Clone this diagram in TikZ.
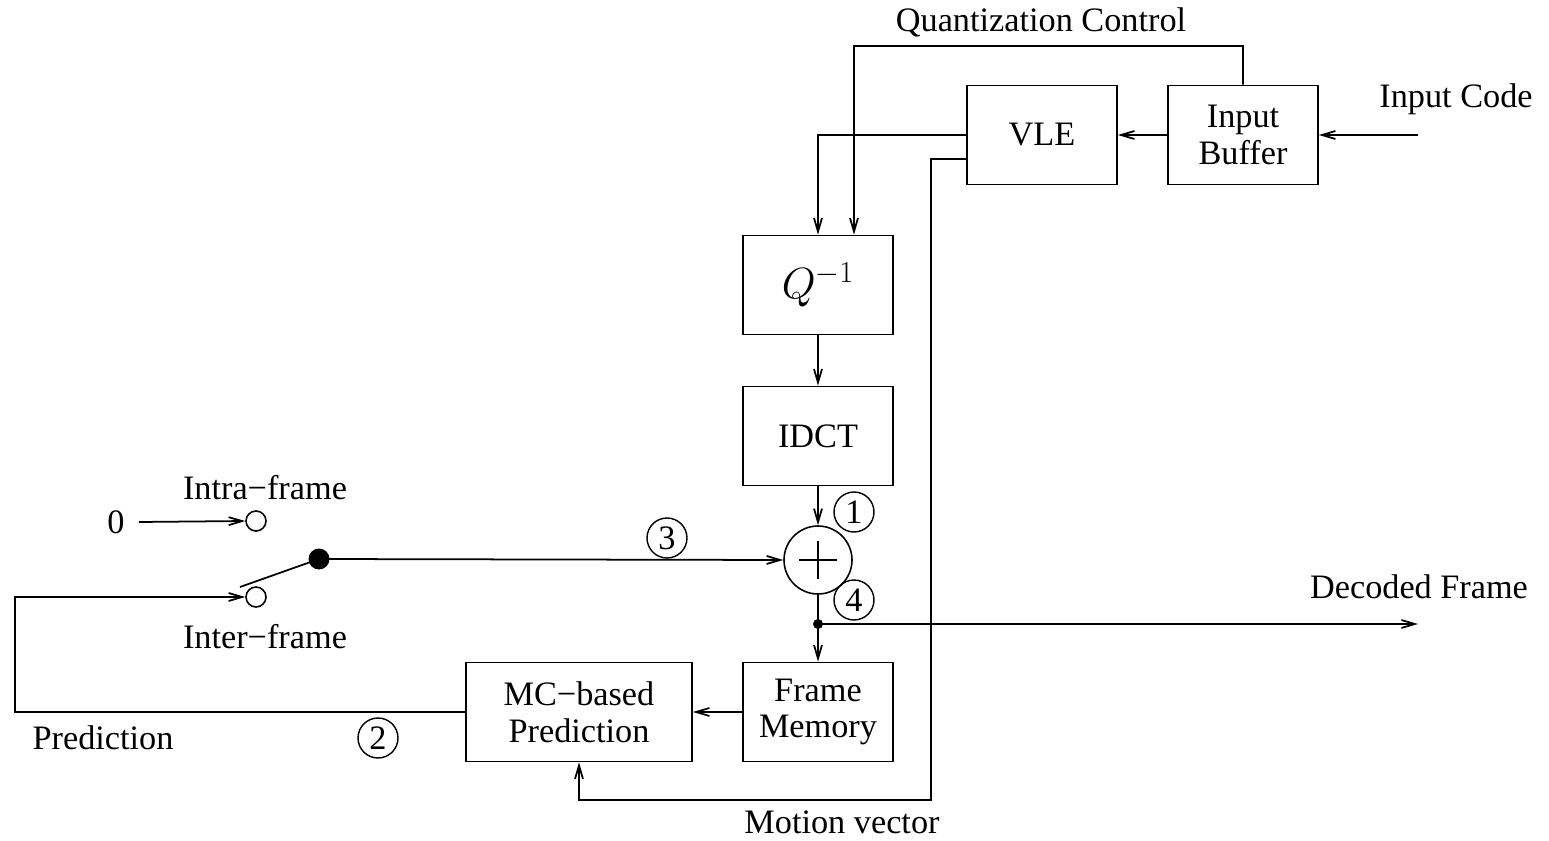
\documentclass[tikz,border=0pt]{standalone}
\usepackage{fontspec}
\setmainfont{Liberation Serif}
\usetikzlibrary{arrows.meta,positioning}

\begin{document}
\begin{tikzpicture}[
  x=0.02cm, y=-0.02cm,
  every node/.style={font=\rmfamily\fontsize{19.5pt}{22pt}\selectfont},
  blk/.style={draw, line width=1pt, minimum width=3cm, minimum height=1.98cm,
              align=center, inner sep=0pt},
  port/.style={draw, circle, line width=0.9pt, minimum size=0.4cm, inner sep=0pt},
  num/.style={draw, circle, line width=0.8pt, minimum size=0.8cm, inner sep=0pt},
  dot/.style={fill, circle, inner sep=0pt, minimum size=#1},
  ln/.style={line width=1pt},
  arr/.style={ln, -{Straight Barb[length=0.27cm, width=0.16cm]}}
]
\useasboundingbox (0,0) rectangle (1549,841);
% blocks
\node[blk] (vle)  at (1042,135) {VLE};
\node[blk] (buf)  at (1243,135) {Input\\[-1pt]Buffer};
\node[blk, font=\fontsize{25pt}{28pt}\selectfont] (q) at (818,285) {$Q^{-1}$};
\node[blk] (idct) at (818,436)  {IDCT};
\node[blk] (fm)   at (818,712)  {Frame\\[-1pt]Memory};
\node[blk, minimum width=4.52cm] (mc) at (579,712) {MC−based\\[-1pt]Prediction};
\node[draw, circle, line width=0.9pt, minimum size=1.36cm, inner sep=0pt] (add) at (818,560) {};
\draw[line width=1.2pt] (add.center) +(-19,0) -- +(19,0) +(0,-19) -- +(0,19);
% switch
\node[port] (intra) at (256,521) {};
\node[port] (inter) at (256,597) {};
\node[dot=0.42cm] (sw) at (319,559) {};
\node[dot=0.2cm]  (jn) at (818,624) {};
\coordinate (arm)  at (240,587);
\coordinate (code) at (1418,135);
\coordinate (dec)  at (1418,624);
\coordinate (mv)   at (931,800);
\coordinate (pl)   at (15,712);
% labels
\node (zero) at (116,522) {0};
\node at (1041,22)  {Quantization Control};
\node at (1456,99)  {Input Code};
\node at (1419,587) {Decoded Frame};
\node at (265,488)  {Intra−frame};
\node at (265,637)  {Inter−frame};
\node at (103,738)  {Prediction};
\node at (842,822)  {Motion vector};
\node[num] (n1) at (854,512) {1};
\node[num] (n2) at (378,738) {2};
\node[num] (n3) at (667,538) {3};
\node[num] (n4) at (854,600) {4};
% connectors
\draw[arr] (code) -- (buf.east);
\draw[arr] (buf.west) -- (vle.east);
\draw[arr] (buf.north) |- (854,46) -- ([xshift=0.72cm]q.north);
\draw[arr] (vle.west) -| (q.north);
\draw[arr] ([yshift=-0.48cm]vle.west) -| (mv) -| (mc.south);
\draw[arr] (q.south) -- (idct.north);
\draw[arr] (idct.south) -- (add.north);
\draw[ln] (add.south) -- (jn.center);
\draw[arr] (jn.center) -- (fm.north);
\draw[arr] (jn.center) -- (dec);
\draw[arr] (fm.west) -- (mc.east);
\draw[arr] (mc.west) -- (pl) |- (inter.west);
\draw[arr] (zero.east) ++(0.16cm,0) -- (intra.west);
\draw[ln] (arm) -- (sw.center);
\draw[arr] (sw.center) -- (add.west);
\end{tikzpicture}
\end{document}
